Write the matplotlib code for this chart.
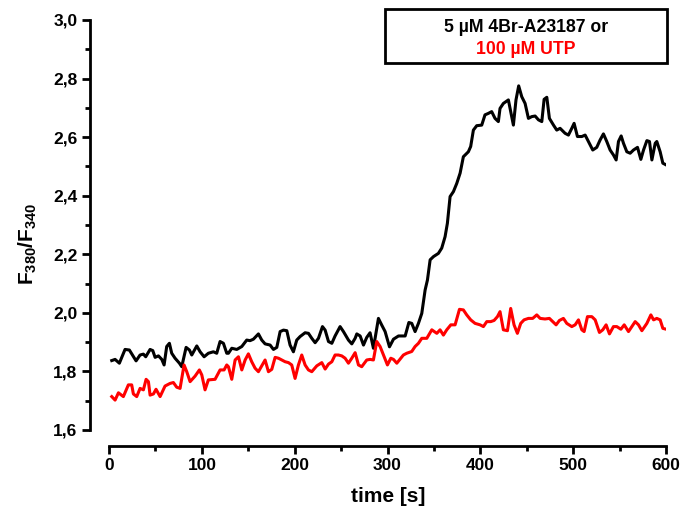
import matplotlib
matplotlib.use("Agg")
import matplotlib.pyplot as plt
from matplotlib.patches import Rectangle
from matplotlib.ticker import MultipleLocator, FuncFormatter

plt.rcParams['font.family'] = ['Liberation Sans', 'DejaVu Sans']
plt.rcParams['font.weight'] = 'bold'
plt.rcParams['mathtext.fontset'] = 'custom'
plt.rcParams['mathtext.rm'] = 'Liberation Sans:bold'
plt.rcParams['mathtext.bf'] = 'Liberation Sans:bold'

# 5 uM 4Br-A23187 (black trace)
t_black = [2.9, 6.5, 11.1, 17.2, 21.9, 29.1, 33.4, 37.0, 39.5, 44.2, 47.1, 49.6, 53.2, 56.8,
           59.3, 62.1, 65.0, 67.5, 71.1, 75.8, 78.3, 83.0, 86.6, 89.1, 94.5, 98.1, 102.4,
           107.0, 112.4, 116.0, 119.6, 123.2, 126.8, 128.6, 132.2, 137.6, 143.0, 148.3,
           151.9, 155.5, 160.9, 164.5, 168.1, 173.5, 177.1, 180.7, 184.3, 187.9, 191.5,
           195.0, 198.6, 202.2, 205.8, 211.2, 214.8, 218.4, 222.0, 225.6, 229.9, 232.8,
           236.4, 240.0, 243.5, 248.9, 252.5, 257.9, 261.5, 265.1, 266.9, 270.5, 274.1,
           277.6, 281.2, 284.8, 290.2, 293.8, 297.4, 302.1, 306.4, 311.8, 319.0, 323.0,
           326.1, 329.7, 333.3, 336.9, 340.5, 343.0, 345.9, 349.5, 354.8, 358.4, 362.0,
           364.5, 367.4, 371.0, 374.6, 378.2, 381.7, 387.1, 389.6, 392.5, 396.1, 401.5,
           405.0, 408.6, 412.2, 415.8, 419.4, 421.2, 424.8, 430.2, 433.8, 435.6, 438.4,
           441.3, 444.6, 448.2, 451.8, 455.4, 459.0, 462.6, 466.2, 468.7, 471.6, 474.4,
           478.8, 482.3, 485.9, 491.3, 494.9, 498.5, 501.0, 504.6, 509.3, 512.9, 516.4,
           521.1, 525.4, 529.0, 532.6, 536.2, 539.8, 543.4, 546.3, 548.8, 551.7, 554.2,
           557.8, 561.4, 565.0, 569.3, 572.9, 575.8, 579.4, 582.2, 584.8, 588.4, 590.1,
           593.7, 596.6, 600.2]
f_black = [1.837, 1.841, 1.828, 1.875, 1.873, 1.836, 1.856, 1.859, 1.850, 1.875, 1.871, 1.848,
           1.853, 1.841, 1.822, 1.885, 1.896, 1.862, 1.845, 1.828, 1.816, 1.882, 1.873, 1.856,
           1.887, 1.867, 1.850, 1.862, 1.867, 1.862, 1.902, 1.896, 1.862, 1.862, 1.879, 1.875,
           1.885, 1.907, 1.905, 1.910, 1.928, 1.907, 1.894, 1.890, 1.875, 1.882, 1.936, 1.941,
           1.939, 1.890, 1.867, 1.907, 1.919, 1.932, 1.930, 1.913, 1.898, 1.913, 1.953, 1.941,
           1.902, 1.896, 1.921, 1.953, 1.936, 1.907, 1.894, 1.913, 1.928, 1.921, 1.890, 1.916,
           1.932, 1.879, 1.981, 1.958, 1.936, 1.884, 1.910, 1.921, 1.921, 1.967, 1.964, 1.936,
           1.964, 1.998, 2.078, 2.112, 2.181, 2.192, 2.203, 2.221, 2.260, 2.306, 2.397, 2.414,
           2.442, 2.477, 2.533, 2.550, 2.568, 2.624, 2.639, 2.641, 2.676, 2.681, 2.687, 2.664,
           2.653, 2.698, 2.715, 2.727, 2.670, 2.641, 2.727, 2.775, 2.738, 2.715, 2.664, 2.670,
           2.672, 2.659, 2.653, 2.729, 2.736, 2.664, 2.641, 2.624, 2.630, 2.613, 2.607, 2.630,
           2.647, 2.602, 2.602, 2.607, 2.585, 2.556, 2.565, 2.590, 2.611, 2.585, 2.556, 2.539,
           2.522, 2.585, 2.604, 2.579, 2.550, 2.545, 2.556, 2.565, 2.524, 2.556, 2.588, 2.585,
           2.522, 2.579, 2.585, 2.550, 2.511, 2.505]

# 100 uM UTP (red trace)
t_red = [2.9, 6.5, 10.1, 15.4, 20.8, 24.4, 26.2, 29.8, 33.4, 37.0, 39.9, 42.4, 44.2, 47.8,
         50.6, 55.0, 60.3, 65.7, 69.3, 72.9, 76.5, 80.8, 83.7, 87.3, 92.7, 97.3, 99.9, 103.4,
         107.0, 114.2, 119.6, 123.9, 126.8, 128.6, 132.2, 135.8, 139.4, 143.0, 146.6, 150.1,
         153.7, 157.3, 160.9, 164.5, 168.1, 171.7, 175.3, 178.9, 182.5, 186.1, 189.7, 193.3,
         196.8, 200.4, 204.0, 207.6, 211.2, 214.8, 218.4, 223.8, 229.2, 232.8, 236.4, 240.0,
         243.5, 247.1, 250.7, 254.3, 257.9, 261.5, 265.1, 268.7, 272.2, 277.6, 281.2, 284.8,
         288.4, 292.0, 295.6, 299.9, 303.5, 306.4, 310.0, 317.1, 320.7, 326.1, 329.7, 333.3,
         336.9, 342.3, 347.7, 353.1, 356.6, 360.2, 363.8, 368.2, 372.8, 377.5, 381.7, 385.3,
         389.6, 394.3, 399.7, 403.3, 406.9, 411.2, 414.8, 418.4, 421.2, 424.8, 429.2, 432.7,
         436.3, 439.9, 443.5, 447.1, 451.8, 456.4, 460.8, 464.4, 469.7, 474.4, 478.0, 481.6,
         485.2, 489.5, 493.1, 498.5, 502.1, 505.7, 509.3, 511.8, 515.4, 520.1, 523.7, 528.3,
         531.9, 535.5, 539.1, 543.4, 547.0, 551.4, 555.0, 559.6, 563.2, 566.8, 570.4, 574.0,
         579.4, 583.7, 586.6, 590.1, 593.7, 596.6, 600.2]
f_red = [1.714, 1.702, 1.727, 1.714, 1.754, 1.754, 1.723, 1.714, 1.742, 1.737, 1.773, 1.765,
         1.719, 1.723, 1.739, 1.714, 1.750, 1.759, 1.762, 1.746, 1.742, 1.822, 1.799, 1.765,
         1.784, 1.805, 1.788, 1.737, 1.771, 1.773, 1.805, 1.805, 1.822, 1.816, 1.773, 1.839,
         1.850, 1.805, 1.839, 1.860, 1.833, 1.811, 1.799, 1.819, 1.839, 1.799, 1.807, 1.848,
         1.845, 1.839, 1.833, 1.830, 1.822, 1.776, 1.822, 1.856, 1.822, 1.805, 1.799, 1.819,
         1.830, 1.808, 1.825, 1.833, 1.856, 1.856, 1.853, 1.845, 1.828, 1.845, 1.864, 1.822,
         1.816, 1.839, 1.841, 1.839, 1.902, 1.885, 1.856, 1.822, 1.845, 1.841, 1.828, 1.856,
         1.862, 1.868, 1.885, 1.896, 1.913, 1.913, 1.942, 1.930, 1.942, 1.924, 1.942, 1.959,
         1.959, 2.012, 2.010, 1.993, 1.976, 1.964, 1.959, 1.953, 1.970, 1.970, 1.974, 1.987,
         2.004, 1.942, 1.939, 2.015, 1.959, 1.930, 1.964, 1.976, 1.981, 1.981, 1.993, 1.981,
         1.979, 1.981, 1.970, 1.959, 1.974, 1.981, 1.964, 1.953, 1.959, 1.976, 1.942, 1.936,
         1.987, 1.987, 1.976, 1.933, 1.942, 1.959, 1.928, 1.953, 1.953, 1.944, 1.959, 1.936,
         1.953, 1.970, 1.959, 1.939, 1.964, 1.993, 1.976, 1.981, 1.976, 1.947, 1.944]

legend_lines = ["5 \u00b5M 4Br-A23187 or", "100 \u00b5M UTP"]

fig = plt.figure(figsize=(6.8, 5.12), dpi=100)
ax = fig.add_axes([0.1324, 0.1602, 0.8470, 0.8008])

ax.plot(t_black, f_black, color='black', lw=2.2, solid_joinstyle='round')
ax.plot(t_red, f_red, color='#ff0000', lw=2.2, solid_joinstyle='round')

ax.set_xlim(-20.5, 600)
ax.set_ylim(1.6, 3.0)

# axis styling: open frame, x axis pushed down
for side in ('top', 'right'):
    ax.spines[side].set_visible(False)
ax.spines['left'].set_linewidth(2.0)
ax.spines['bottom'].set_linewidth(2.0)
ax.spines['bottom'].set_position(('outward', 11.3))
ax.spines['bottom'].set_bounds(0, 600)

ax.xaxis.set_major_locator(MultipleLocator(100))
ax.xaxis.set_minor_locator(MultipleLocator(50))
ax.yaxis.set_major_locator(MultipleLocator(0.2))
ax.yaxis.set_minor_locator(MultipleLocator(0.1))
ax.yaxis.set_major_formatter(FuncFormatter(lambda v, p: f"{v:.1f}".replace('.', ',')))
ax.tick_params(which='major', length=6, width=2.0, labelsize=12.5, pad=3)
ax.tick_params(which='minor', length=3.5, width=2.0)
for lab in ax.get_xticklabels() + ax.get_yticklabels():
    lab.set_fontweight('bold')

fig.text(388 / 680, 1 - 497 / 512, 'time [s]', ha='center', va='center',
         fontsize=15, fontweight='bold')
fig.text(28 / 680, 1 - 244 / 512, r'$\mathbf{F_{380}/F_{340}}$', ha='center', va='center',
         rotation=90, fontsize=15)

# legend box
fig.patches.append(Rectangle((385 / 680, 1 - 63 / 512), 282 / 680, 54 / 512,
                             transform=fig.transFigure, fill=False, lw=2.0,
                             edgecolor='black'))
fig.text(526 / 680, 1 - 27 / 512, legend_lines[0], ha='center', va='center',
         fontsize=12.7, fontweight='bold', color='black')
fig.text(526 / 680, 1 - 50 / 512, legend_lines[1], ha='center', va='center',
         fontsize=12.7, fontweight='bold', color='#ff0000')

fig.savefig('out.png', dpi=100)
